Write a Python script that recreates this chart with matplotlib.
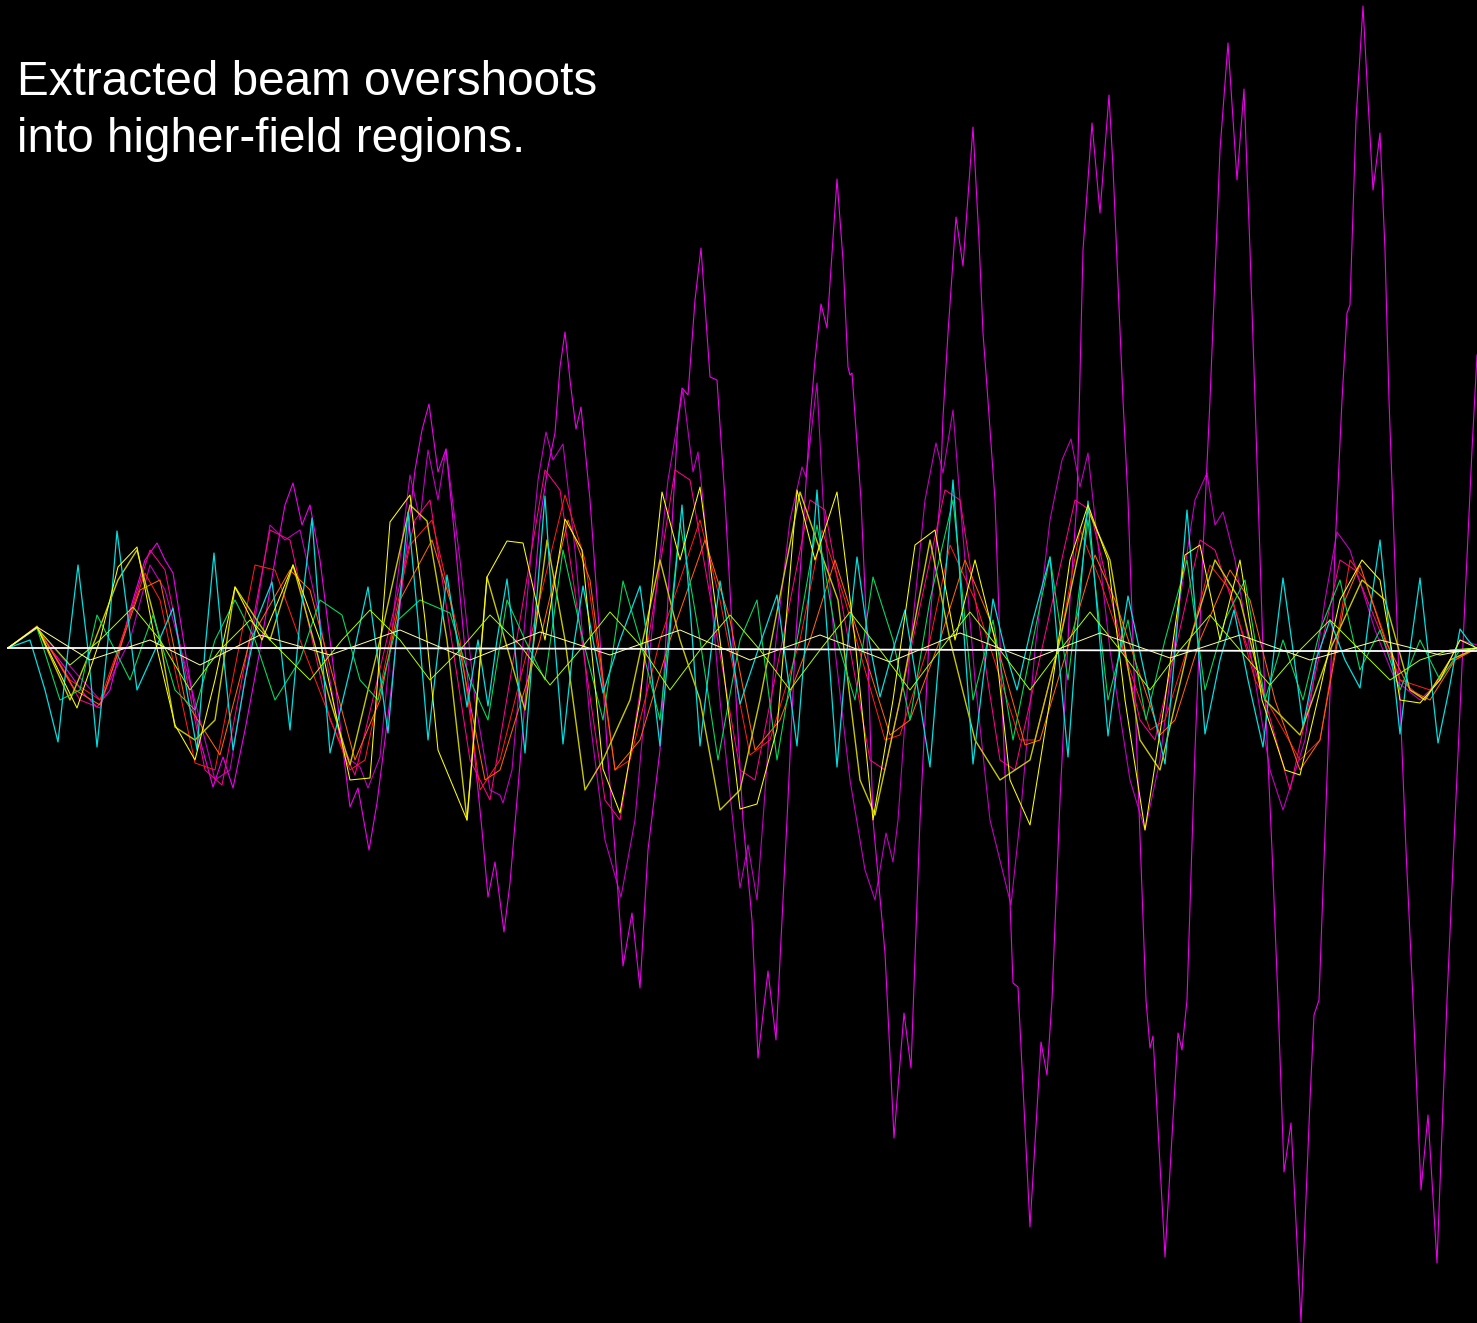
import matplotlib
matplotlib.use("Agg")
import matplotlib.pyplot as plt

# ---- data: (position along extraction path, radial displacement) ----
m1 = [(8,648),(20,640),(37,626),(50,648),(67,670),(85,695),(97,707),(110,690),(130,610),(145,560),(157,543),(165,560),(173,573),(185,650),(200,740),(213,787),(223,757),(233,788),(245,730),(260,650),(275,560),(285,505),(293,483),(302,525),(310,505),(320,560),(335,680),(343,750),(350,807),(358,788),(369,850),(377,803),(390,700),(405,560),(415,470),(422,430),(429,404),(438,472),(446,449),(455,540),(465,650),(475,760),(482,830),(488,897),(495,862),(504,932),(510,883),(518,788),(530,640),(540,520),(548,467),(555,433),(560,367),(565,332),(570,380),(576,429),(581,407),(590,500),(600,640),(608,760),(615,850),(623,966),(632,913),(640,988),(648,850),(660,750),(670,560),(678,420),(682,388),(688,395),(695,300),(701,248),(706,320),(710,377),(717,380),(725,500),(735,680),(743,820),(752,920),(758,1058),(768,971),(776,1040),(787,820),(795,650),(803,530),(810,420),(815,360),(821,304),(827,328),(837,179),(843,260),(848,367),(850,375),(852,373),(861,500),(868,660),(873,820),(885,953),(894,1138),(904,1013),(911,1068),(920,820),(930,620),(940,500),(943,417),(948,333),(956,217),(963,266),(973,127),(979,240),(983,333),(987,387),(995,500),(1002,700),(1007,820),(1013,983),(1018,987),(1030,1227),(1041,1042),(1047,1075),(1052,1000),(1060,800),(1070,600),(1077,500),(1083,250),(1092,123),(1100,213),(1109,95),(1113,167),(1123,400),(1128,500),(1135,700),(1146,1000),(1150,1048),(1153,1036),(1165,1257),(1178,1033),(1182,1050),(1187,1000),(1195,750),(1203,550),(1210,400),(1220,150),(1228,43),(1237,180),(1244,89),(1250,250),(1255,400),(1263,650),(1272,850),(1278,1000),(1284,1172),(1291,1123),(1301,1322),(1310,1100),(1314,1015),(1319,1000),(1328,750),(1335,550),(1342,400),(1347,313),(1350,305),(1356,120),(1363,6),(1368,100),(1373,190),(1380,133),(1385,250),(1389,400),(1398,650),(1406,850),(1413,1000),(1421,1190),(1428,1115),(1437,1263),(1447,1000),(1455,820),(1465,600),(1472,450),(1477,355)]

m2 = [(8,648),(37,628),(60,655),(100,700),(130,640),(150,565),(165,590),(200,720),(215,780),(230,770),(250,650),(270,525),(285,540),(300,530),(320,620),(340,740),(349,759),(360,767),(368,788),(380,757),(395,600),(410,475),(420,520),(428,450),(438,500),(446,449),(460,560),(475,700),(490,790),(500,795),(503,803),(512,770),(525,620),(538,480),(546,432),(553,460),(563,444),(575,550),(590,720),(605,840),(621,897),(635,820),(650,650),(668,480),(683,390),(693,472),(698,452),(703,500),(720,700),(740,888),(748,845),(757,900),(763,820),(775,650),(790,520),(802,467),(806,477),(817,383),(823,500),(835,650),(850,780),(865,870),(875,900),(886,833),(893,862),(898,820),(910,650),(925,500),(936,443),(943,473),(953,410),(960,500),(975,680),(990,820),(1011,905),(1020,820),(1035,650),(1050,520),(1062,460),(1071,439),(1080,487),(1088,453),(1093,500),(1110,650),(1130,780),(1145,830),(1160,760),(1180,600),(1195,500),(1207,473),(1215,525),(1223,512),(1235,560),(1255,680),(1270,770),(1283,810),(1305,740),(1325,600),(1337,532),(1350,550),(1375,630),(1395,680),(1420,700),(1440,680),(1460,640),(1477,645)]

cyan = [(8,648),(30,640),(45,690),(58,742),(68,650),(78,565),(88,650),(97,747),(108,640),(117,531),(127,610),(137,690),(155,650),(173,608),(185,680),(197,750),(205,650),(214,553),(223,650),(233,750),(245,680),(258,617),(272,582),(281,650),(290,730),(300,620),(312,518),(321,640),(330,753),(350,670),(368,587),(378,660),(388,733),(398,620),(408,512),(418,620),(428,740),(437,660),(447,575),(457,640),(467,707),(478,640),(488,706),(497,640),(507,579),(515,650),(525,753),(535,620),(545,496),(553,620),(563,744),(573,650),(583,586),(593,640),(603,693),(620,640),(640,586),(650,660),(660,746),(671,620),(682,505),(691,620),(700,746),(710,660),(720,581),(730,640),(740,704),(758,650),(777,595),(787,670),(797,746),(807,620),(817,490),(827,630),(837,767),(846,660),(857,557),(867,630),(880,697),(893,650),(905,610),(918,690),(930,767),(942,620),(953,480),(963,620),(973,764),(983,680),(993,599),(1005,650),(1017,690),(1033,620),(1050,557),(1059,660),(1068,757),(1078,620),(1088,501),(1098,620),(1108,736),(1118,660),(1128,596),(1146,680),(1165,764),(1176,640),(1187,510),(1196,620),(1205,734),(1220,660),(1234,610),(1248,680),(1263,747),(1273,660),(1283,578),(1293,650),(1303,726),(1316,660),(1330,620),(1345,660),(1360,688),(1370,610),(1380,540),(1390,640),(1400,734),(1410,650),(1420,578),(1429,660),(1438,743),(1449,690),(1460,629),(1468,640),(1477,650)]

yellow = [(8,648),(37,627),(77,708),(100,640),(118,567),(137,547),(155,640),(175,725),(195,760),(215,680),(235,587),(262,640),(293,565),(320,640),(350,780),(370,778),(390,522),(410,495),(425,620),(438,750),(467,820),(487,577),(507,541),(523,543),(545,640),(565,519),(582,550),(603,769),(620,813),(640,700),(662,492),(680,560),(700,487),(720,640),(740,809),(757,804),(777,729),(797,490),(815,560),(837,492),(855,640),(873,820),(893,700),(915,545),(935,530),(955,640),(975,560),(995,640),(1010,780),(1030,825),(1050,700),(1070,560),(1088,505),(1108,560),(1125,700),(1145,830),(1165,700),(1185,555),(1200,545),(1220,640),(1240,560),(1262,700),(1285,770),(1300,775),(1320,690),(1340,600),(1362,560),(1380,580),(1400,700),(1420,703),(1440,680),(1460,640),(1477,648)]

olive = [(8,648),(37,627),(70,700),(95,640),(118,580),(137,550),(160,640),(175,727),(195,740),(215,720),(235,587),(270,640),(293,565),(330,700),(350,765),(380,640),(410,505),(427,521),(447,640),(467,820),(487,577),(505,640),(525,710),(547,540),(565,640),(585,790),(603,760),(630,700),(660,560),(680,640),(700,700),(720,810),(740,790),(760,700),(800,492),(820,550),(838,600),(860,780),(875,815),(900,700),(930,540),(950,640),(975,740),(1000,780),(1030,760),(1060,640),(1088,510),(1110,560),(1140,740),(1160,770),(1190,640),(1215,560),(1240,600),(1265,700),(1300,735),(1330,650),(1362,580),(1385,600),(1410,690),(1425,700),(1450,660),(1477,648)]

red = [(8,648),(37,627),(70,680),(100,700),(145,573),(160,600),(195,763),(215,770),(255,565),(275,570),(300,640),(350,770),(365,760),(410,545),(432,520),(460,640),(480,790),(500,760),(530,640),(565,495),(585,560),(615,770),(630,760),(660,640),(700,520),(720,600),(750,755),(770,740),(800,640),(822,530),(845,600),(885,740),(900,735),(930,640),(950,545),(975,600),(1020,740),(1035,740),(1060,640),(1080,530),(1100,580),(1150,730),(1165,720),(1190,640),(1210,565),(1230,590),(1255,680),(1300,760),(1320,740),(1350,560),(1365,580),(1400,680),(1430,690),(1455,660),(1477,648)]

orange = [(8,648),(37,627),(75,690),(100,705),(140,590),(160,580),(185,700),(220,755),(250,640),(290,570),(310,590),(355,760),(380,700),(400,600),(432,540),(450,600),(485,780),(500,770),(540,640),(568,520),(590,580),(615,770),(640,740),(670,640),(705,540),(730,620),(755,750),(780,720),(810,640),(835,560),(860,640),(890,735),(910,720),(940,640),(965,560),(990,620),(1025,745),(1040,740),(1070,640),(1095,555),(1115,600),(1160,735),(1175,720),(1200,640),(1230,570),(1250,600),(1275,700),(1300,770),(1320,740),(1345,600),(1360,565),(1385,640),(1410,690),(1430,700),(1455,660),(1477,648)]

pink = [(8,648),(37,626),(80,700),(100,708),(150,550),(165,570),(205,770),(222,785),(270,530),(290,540),(330,720),(355,775),(415,520),(430,500),(470,760),(490,800),(545,470),(560,490),(605,800),(620,820),(675,470),(690,480),(740,770),(755,780),(810,500),(825,510),(870,760),(885,770),(945,490),(960,500),(1000,760),(1015,770),(1075,500),(1090,510),(1140,720),(1155,740),(1200,540),(1215,550),(1265,700),(1290,790),(1340,560),(1355,570),(1400,680),(1425,700),(1450,660),(1477,648)]

green = [(8,648),(37,628),(60,700),(80,690),(97,615),(120,660),(130,680),(153,615),(175,690),(195,710),(215,640),(235,600),(255,640),(275,700),(300,660),(320,600),(342,615),(360,680),(378,700),(398,620),(420,600),(450,613),(470,680),(488,720),(507,600),(525,640),(545,680),(563,550),(583,640),(603,720),(623,581),(640,640),(660,720),(680,523),(700,640),(718,760),(740,640),(757,600),(777,760),(797,640),(817,525),(837,640),(855,700),(873,577),(893,640),(910,720),(930,600),(953,500),(973,700),(993,620),(1013,740),(1033,640),(1050,557),(1068,680),(1088,520),(1108,700),(1128,620),(1146,720),(1165,640),(1187,560),(1205,690),(1225,620),(1245,580),(1265,700),(1283,640),(1303,700),(1320,630),(1340,580),(1360,670),(1380,630),(1400,690),(1420,640),(1440,680),(1460,650),(1477,648)]

lime = [(8,648),(37,628),(70,665),(100,640),(133,607),(160,640),(190,690),(220,650),(250,620),(280,650),(310,680),(342,640),(370,610),(400,640),(430,680),(460,650),(490,615),(520,645),(550,685),(580,650),(610,612),(640,645),(670,690),(700,650),(730,615),(760,650),(790,690),(820,650),(850,612),(880,650),(910,690),(940,650),(970,612),(1000,650),(1030,690),(1060,650),(1090,612),(1120,650),(1150,690),(1180,650),(1210,615),(1240,650),(1270,685),(1300,650),(1330,620),(1360,650),(1390,680),(1420,660),(1450,650),(1477,648)]

pale = [(8,648),(37,627),(90,660),(150,640),(200,665),(260,635),(330,655),(400,630),(470,660),(540,632),(610,655),(680,630),(750,660),(820,635),(890,662),(960,633),(1030,660),(1100,633),(1170,658),(1240,635),(1310,660),(1380,640),(1440,655),(1477,648)]

white = [(8,648),(300,648),(700,649),(1000,650),(1300,651),(1477,651)]

title_lines = ["Extracted beam overshoots", "into higher-field regions."]

# ---- figure ----
W, H = 1477, 1323
fig = plt.figure(figsize=(W / 100, H / 100), dpi=100, facecolor="black")
ax = fig.add_axes([0, 0, 1, 1])
ax.set_facecolor("black")
ax.set_xlim(0, W)
ax.set_ylim(H, 0)
ax.axis("off")

series = [
    (m2, "#c400c4", 0.8),
    (m1, "#ee00ee", 0.8),
    (pink, "#ff0090", 0.75),
    (red, "#ff1a1a", 0.75),
    (orange, "#ff6400", 0.75),
    (olive, "#c8c800", 1.0),
    (green, "#00d860", 0.8),
    (cyan, "#00e0e0", 0.9),
    (yellow, "#ffff00", 0.75),
    (lime, "#a8ff00", 0.7),
    (pale, "#ffffa0", 0.7),
    (white, "#ffffff", 1.3),
]
for pts, col, lw in series:
    xs = [p[0] for p in pts]
    ys = [p[1] for p in pts]
    ax.plot(xs, ys, color=col, lw=lw, solid_joinstyle="round", antialiased=True)

fam = ["Liberation Sans", "DejaVu Sans"]
fig.text(17 / W, 1 - 95 / H, title_lines[0], color="white", fontsize=34.3,
         family=fam, va="baseline", ha="left")
fig.text(17 / W, 1 - 152 / H, title_lines[1], color="white", fontsize=34.3,
         family=fam, va="baseline", ha="left")

fig.savefig("out.png", dpi=100, facecolor="black")
